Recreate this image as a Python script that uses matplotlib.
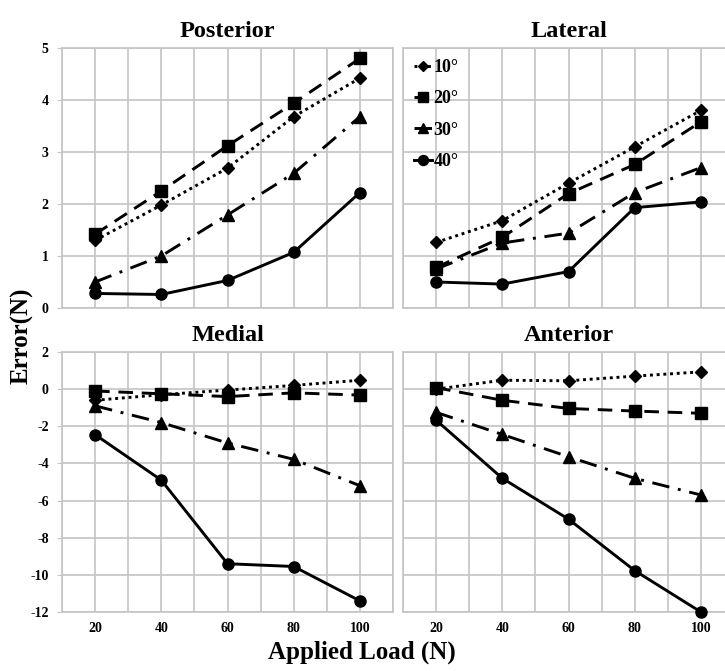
import matplotlib
matplotlib.use("Agg")
import matplotlib.pyplot as plt

plt.rcParams['font.family'] = ['Liberation Serif', 'DejaVu Serif']
plt.rcParams['font.weight'] = 'bold'

loads = [20, 40, 60, 80, 100]
angles = ["10°", "20°", "30°", "40°"]

posterior = {
    "10°": [1.30, 1.98, 2.69, 3.68, 4.42],
    "20°": [1.42, 2.25, 3.12, 3.94, 4.80],
    "30°": [0.50, 1.00, 1.79, 2.59, 3.68],
    "40°": [0.28, 0.26, 0.53, 1.07, 2.22],
}
lateral = {
    "10°": [1.26, 1.68, 2.40, 3.10, 3.80],
    "20°": [0.78, 1.36, 2.20, 2.76, 3.58],
    "30°": [0.75, 1.25, 1.44, 2.22, 2.70],
    "40°": [0.50, 0.46, 0.70, 1.93, 2.04],
}
medial = {
    "10°": [-0.60, -0.30, -0.05, 0.20, 0.48],
    "20°": [-0.10, -0.25, -0.40, -0.20, -0.32],
    "30°": [-0.90, -1.80, -2.90, -3.78, -5.20],
    "40°": [-2.45, -4.90, -9.40, -9.55, -11.40],
}
anterior = {
    "10°": [0.00, 0.48, 0.45, 0.70, 0.93],
    "20°": [0.08, -0.60, -1.04, -1.18, -1.30],
    "30°": [-1.25, -2.44, -3.64, -4.80, -5.70],
    "40°": [-1.67, -4.80, -7.00, -9.77, -12.00],
}
titles = ["Posterior", "Lateral", "Medial", "Anterior"]

styles = {
    "10°": dict(linestyle=(0, (1, 1.3)), marker='D', markersize=6),
    "20°": dict(linestyle=(0, (5, 3)), marker='s', markersize=8),
    "30°": dict(linestyle=(0, (6, 3, 1, 3)), marker='^', markersize=8),
    "40°": dict(linestyle='-', marker='o', markersize=8),
}

fig = plt.figure(figsize=(7.25, 6.71), dpi=100)
W, H = 725, 671
def pos(x0, x1, y0, y1):
    return [x0 / W, 1 - y1 / H, (x1 - x0) / W, (y1 - y0) / H]

axes = [
    fig.add_axes(pos(62, 393, 48, 308)),
    fig.add_axes(pos(403, 734, 48, 308)),
    fig.add_axes(pos(62, 393, 352, 612)),
    fig.add_axes(pos(403, 734, 352, 612)),
]
datasets = [posterior, lateral, medial, anterior]
grey = '#c4c4c4'

for i, (ax, data, title) in enumerate(zip(axes, datasets, titles)):
    for a in angles:
        ax.plot(loads, data[a], color='black', linewidth=2.1, label=a,
                markerfacecolor='black', markeredgecolor='black',
                clip_on=False, zorder=3, **styles[a])
    ax.set_xlim(10, 110)
    xt = list(range(10, 111, 10))
    ax.set_xticks(xt)
    if i >= 2:
        ax.set_xticklabels([str(v) if v in loads else '' for v in xt],
                           fontsize=10, fontweight='bold')
    else:
        ax.set_xticklabels([])
    if i < 2:
        ax.set_ylim(0, 5)
        ax.set_yticks(range(0, 6))
    else:
        ax.set_ylim(-12, 2)
        ax.set_yticks(range(-12, 3, 2))
    if i % 2 == 0:
        ax.set_yticklabels([str(v) for v in ax.get_yticks().astype(int)],
                           fontsize=10, fontweight='bold')
    else:
        ax.set_yticklabels([])
        ax.tick_params(axis='y', length=0)
    ax.tick_params(axis='x', length=0, pad=7)
    ax.tick_params(axis='y', color=grey, pad=6)
    ax.grid(True, color=grey, linewidth=1.2)
    ax.set_axisbelow(True)
    for sp in ax.spines.values():
        sp.set_color(grey)
        sp.set_linewidth(1.2)
    ax.set_title(title, fontsize=17.5, fontweight='bold', pad=8)

leg = axes[1].legend(loc='upper left', frameon=False, fontsize=13,
                     handlelength=1.0, handletextpad=0.1, labelspacing=0.8,
                     borderaxespad=0.2, markerscale=0.9)
for t in leg.get_texts():
    t.set_fontweight('bold')

fig.text(362 / W, 1 - 652 / H, 'Applied Load (N)', ha='center', va='center',
         fontsize=18, fontweight='bold')
fig.text(22 / W, 1 - 336 / H, 'Error(N)', ha='center', va='center',
         rotation=90, fontsize=18, fontweight='bold')

fig.savefig('out.png', dpi=100)
